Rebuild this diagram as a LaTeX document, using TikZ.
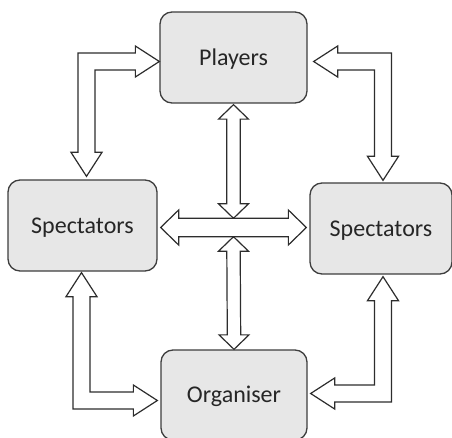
\documentclass[tikz,border=0pt]{standalone}
\usepackage{fontspec}
\setmainfont{Carlito}
\usepackage{xcolor}
\definecolor{boxgray}{RGB}{231,231,231}
\definecolor{edgegray}{RGB}{62,62,62}
\definecolor{arrowline}{RGB}{45,45,45}
\usepackage{tikz}
\usetikzlibrary{calc}

\tikzset{
  party/.style={draw=edgegray, line width=1.3pt, fill=boxgray, rounded corners=12pt,
    inner sep=0pt, text height=15.5pt, text depth=0pt,
    font=\fontsize{24}{28}\selectfont, text=black!85},
  blockarrow/.style={draw=arrowline, line width=1.2pt, fill=white, line join=miter}
}

% L-shaped hollow arrow: #1 tip of the horizontal leg, #2 tip of the vertical leg,
% #3 / #4 pointing sign of each leg
\newcommand{\elbowarrow}[4]{%
  \draw[blockarrow] let \p1=(#1), \p2=(#2) in
    (\p1) -- ({\x1-(#3)*24pt}, {\y1-(#4)*15.5pt}) -- ({\x1-(#3)*24pt}, {\y1-(#4)*8.5pt})
    -- ({\x2-(#3)*8.5pt}, {\y1-(#4)*8.5pt}) -- ({\x2-(#3)*8.5pt}, {\y2-(#4)*24pt})
    -- ({\x2-(#3)*15.5pt}, {\y2-(#4)*24pt}) -- (\p2)
    -- ({\x2+(#3)*15.5pt}, {\y2-(#4)*24pt}) -- ({\x2+(#3)*8.5pt}, {\y2-(#4)*24pt})
    -- ({\x2+(#3)*8.5pt}, {\y1+(#4)*8.5pt}) -- ({\x1-(#3)*24pt}, {\y1+(#4)*8.5pt})
    -- ({\x1-(#3)*24pt}, {\y1+(#4)*15.5pt}) -- cycle;}

% straight hollow double arrow: #1,#2 tips, #3,#4 direction, #5 shaft, #6 head half width, #7 head length
\newcommand{\twowayarrow}[7]{%
  \draw[blockarrow] let \p1=(#1), \p2=(#2) in
    (\p1) -- ({\x1+(#3)*#7pt-(#4)*#6pt}, {\y1+(#4)*#7pt+(#3)*#6pt})
    -- ({\x1+(#3)*#7pt-(#4)*#5pt}, {\y1+(#4)*#7pt+(#3)*#5pt})
    -- ({\x2-(#3)*#7pt-(#4)*#5pt}, {\y2-(#4)*#7pt+(#3)*#5pt})
    -- ({\x2-(#3)*#7pt-(#4)*#6pt}, {\y2-(#4)*#7pt+(#3)*#6pt}) -- (\p2)
    -- ({\x2-(#3)*#7pt+(#4)*#6pt}, {\y2-(#4)*#7pt-(#3)*#6pt})
    -- ({\x2-(#3)*#7pt+(#4)*#5pt}, {\y2-(#4)*#7pt-(#3)*#5pt})
    -- ({\x1+(#3)*#7pt+(#4)*#5pt}, {\y1+(#4)*#7pt-(#3)*#5pt})
    -- ({\x1+(#3)*#7pt+(#4)*#6pt}, {\y1+(#4)*#7pt-(#3)*#6pt}) -- cycle;}

\begin{document}
\begin{tikzpicture}[x=1pt,y=1pt]
\useasboundingbox (0,0) rectangle (452,437);

\node[party, minimum width=147pt, minimum height=91pt] (Players) at (233.5,379.5) {Players};
\node[party, minimum width=149pt, minimum height=91pt] (SpecL) at (82.5,211.5) {Spectators};
\node[party, minimum width=142pt, minimum height=91pt] (SpecR) at (381,208.5) {Spectators};
\node[party, minimum width=146pt, minimum height=90pt] (Organiser) at (234,42) {Organiser};

% --- centre cross
\coordinate (hubL) at ($(SpecL.east)+(3,-2)$);
\coordinate (hubR) at ($(SpecR.west)+(-3,1)$);
\coordinate (hub) at ($(hubL)!0.5!(hubR)$);
\coordinate (hubT) at ($(hub)+(0,9.2)$);
\coordinate (hubB) at ($(hub)+(0,-9.2)$);
\coordinate (PlS) at ($(Players.south)+(0,-1)$);

\twowayarrow{PlS}{hubT}{0}{-1}{6.7}{15}{14.5}
\twowayarrow{hubB}{Organiser.north}{0}{-1}{6.7}{15}{14.5}
\twowayarrow{hubL}{hubR}{1}{0}{9.2}{17.5}{18}

% --- corner arrows
\coordinate (PlW) at ($(Players.west)+(0,-4)$);
\coordinate (PlE) at ($(Players.east)+(6,-4)$);
\coordinate (SLN) at ($(SpecL.north)+(4,3)$);
\coordinate (SRN) at ($(SpecR.north)+(2,2)$);
\coordinate (SLS) at ($(SpecL.south)+(-1,-1)$);
\coordinate (SRS) at ($(SpecR.south)+(2,-2)$);
\coordinate (OrW) at ($(Organiser.west)+(-3,-5.5)$);
\coordinate (OrE) at ($(Organiser.east)+(3,1.5)$);

\elbowarrow{PlW}{SLN}{1}{-1}
\elbowarrow{PlE}{SRN}{-1}{-1}
\elbowarrow{OrW}{SLS}{1}{1}
\elbowarrow{OrE}{SRS}{-1}{1}

\end{tikzpicture}
\end{document}
